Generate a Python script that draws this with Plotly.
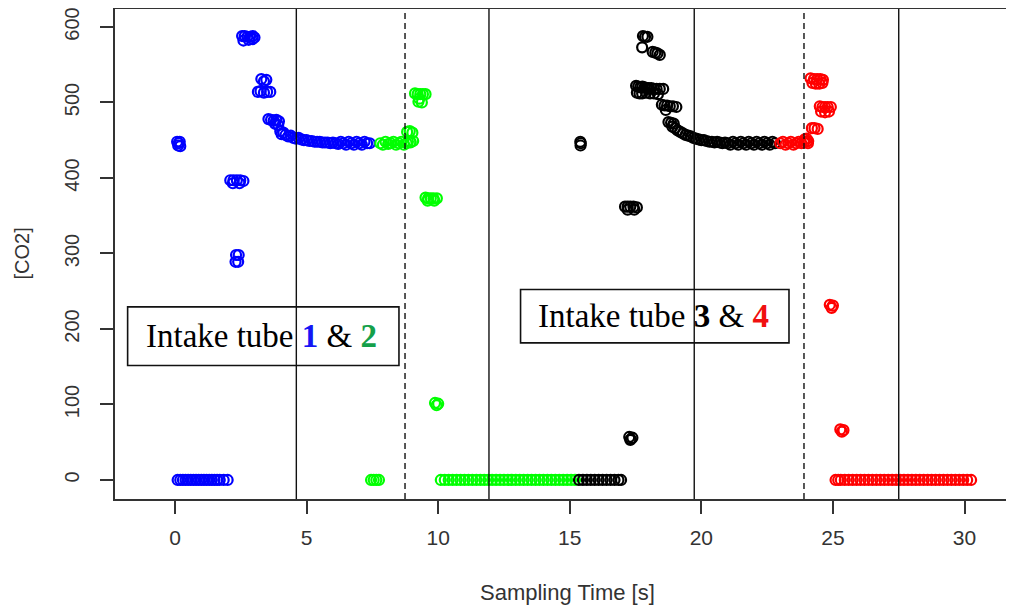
import plotly.graph_objects as go

# ---------------- data ----------------
tube1_t = [0.10, 0.20, 0.30, 0.40, 0.50, 0.60, 0.70, 0.80, 0.90, 1.00, 1.10, 1.20, 1.30, 1.40, 1.50, 1.60, 1.70, 1.85, 2.00,
           0.08, 0.14, 0.20, 0.12, 0.18,
           2.10, 2.22, 2.35, 2.48, 2.60, 2.20, 2.45,
           2.30, 2.40, 2.32, 2.42,
           2.55, 2.65, 2.75, 2.85, 2.95, 3.02, 2.60, 2.80, 2.95,
           3.28, 3.38, 3.47,
           3.15, 3.25, 3.38, 3.50, 3.62,
           3.55, 3.65, 3.75, 3.85, 3.95, 3.92, 3.80,
           4.00, 4.05, 4.12, 4.20, 4.30, 4.40, 4.50, 4.60, 4.70, 4.80, 4.90,
           5.00, 5.10, 5.20, 5.30, 5.40, 5.50, 5.60, 5.70, 5.80, 5.90, 6.00, 6.10, 6.20,
           6.30, 6.40, 6.50, 6.60, 6.70, 6.80, 6.90, 7.00, 7.10, 7.20, 7.30, 7.40]
tube1_co2 = [0, 0, 0, 0, 0, 0, 0, 0, 0, 0, 0, 0, 0, 0, 0, 0, 0, 0, 0,
             448, 446, 442, 443, 448,
             397, 397, 397, 397, 396, 393, 393,
             289, 289, 298, 298,
             588, 588, 587, 587, 588, 586, 582, 583, 584,
             531, 528, 530,
             514, 515, 513, 514, 514,
             478, 477, 476, 477, 475, 470, 472,
             462, 458, 460, 457, 455, 456, 453, 452, 453, 451, 450,
             450, 449, 449, 448, 448, 448, 447, 447, 447, 446, 447, 446, 445,
             448, 446, 444, 448, 446, 444, 448, 446, 444, 448, 446, 446]

tube2_t = [7.45, 7.55, 7.65, 7.75,
           7.80, 7.90, 8.00, 8.10, 8.20, 8.30, 8.40, 8.50, 8.60, 8.70, 8.80, 8.95,
           8.82, 8.92, 9.02, 8.85, 8.95, 9.05,
           9.12, 9.22, 9.32, 9.42, 9.52, 9.25, 9.38, 9.28,
           9.52, 9.62, 9.72, 9.82, 9.95, 9.60, 9.85,
           9.88, 9.94, 10.00,
           10.10, 10.25, 10.40, 10.55, 10.70, 10.85, 11.00, 11.15, 11.30, 11.45, 11.60, 11.75, 11.90,
           12.05, 12.20, 12.35, 12.50, 12.65, 12.80, 12.95, 13.10, 13.25, 13.40, 13.55, 13.70, 13.85,
           14.00, 14.15, 14.30, 14.45, 14.60, 14.75, 14.90, 15.05, 15.20]
tube2_co2 = [0, 0, 0, 0,
             446, 444, 448, 445, 446, 448, 444, 446, 448, 444, 446, 448,
             461, 462, 460, 448, 447, 449,
             512, 511, 511, 511, 511, 501, 500, 505,
             374, 373, 373, 373, 373, 370, 370,
             102, 99, 101,
             0, 0, 0, 0, 0, 0, 0, 0, 0, 0, 0, 0, 0,
             0, 0, 0, 0, 0, 0, 0, 0, 0, 0, 0, 0, 0,
             0, 0, 0, 0, 0, 0, 0, 0, 0]

tube3_t = [15.40, 15.41, 15.42,
           15.35, 15.50, 15.65, 15.80, 15.95, 16.10, 16.25, 16.40, 16.55, 16.70, 16.85, 16.95,
           17.10, 17.20, 17.30, 17.42, 17.55, 17.20, 17.45,
           17.26, 17.32, 17.38, 17.30,
           17.78, 17.86, 17.95, 17.75,
           18.15, 18.25, 18.33, 18.42,
           17.52, 17.60, 17.68, 17.76, 17.84, 17.92, 18.00, 18.10, 18.20, 18.30, 18.42, 18.55,
           17.55, 17.65, 17.75, 17.90, 18.05, 18.20, 18.35,
           18.50, 18.60, 18.70, 18.80, 18.92, 19.05, 18.65,
           18.75, 18.85, 18.95, 19.00, 18.90,
           19.10, 19.20, 19.30, 19.40, 19.50, 19.60, 19.70, 19.80, 19.90, 20.00, 20.10, 20.20, 20.30,
           20.40, 20.50, 20.60, 20.70, 20.80, 20.90, 21.00, 21.10, 21.20, 21.30, 21.40, 21.50, 21.60,
           21.70, 21.80, 21.90, 22.00, 22.10, 22.20, 22.30, 22.40, 22.50, 22.60, 22.70, 22.80]
tube3_co2 = [448, 443, 446,
             0, 0, 0, 0, 0, 0, 0, 0, 0, 0, 0, 0,
             362, 362, 362, 362, 361, 358, 358,
             57, 54, 56, 53,
             588, 587, 587, 573,
             567, 566, 565, 563,
             522, 521, 520, 521, 520, 519, 519, 519, 518, 518, 518, 518,
             513, 512, 512, 513, 512, 512, 511,
             497, 496, 496, 495, 495, 494, 490,
             474, 473, 472, 466, 468,
             463, 461, 459, 457, 456, 455, 453, 452, 451, 450, 450, 449, 448,
             448, 447, 448, 447, 446, 447, 446, 444, 448, 446, 444, 448, 446,
             444, 448, 446, 444, 448, 446, 444, 448, 446, 444, 448, 446]

tube4_t = [23.00, 23.10, 23.20, 23.30, 23.40, 23.50, 23.60, 23.70, 23.80, 23.90, 24.00, 24.05,
           23.92, 24.00, 24.06,
           24.20, 24.30, 24.42,
           24.15, 24.28, 24.40, 24.52, 24.62, 24.22, 24.35, 24.48, 24.60,
           24.50, 24.60, 24.70, 24.80, 24.92, 24.55, 24.70, 24.85,
           24.88, 24.95, 25.00,
           25.28, 25.34, 25.40,
           25.10, 25.20, 25.30, 25.45, 25.60, 25.75, 25.90, 26.05, 26.20, 26.35, 26.50, 26.65, 26.80,
           26.95, 27.10, 27.25, 27.40, 27.55, 27.70, 27.85, 28.00, 28.15, 28.30, 28.45, 28.60, 28.75,
           28.90, 29.05, 29.20, 29.35, 29.50, 29.65, 29.80, 29.95, 30.10, 30.25]
tube4_co2 = [446, 448, 444, 446, 448, 444, 446, 448, 446, 447, 448, 446,
             451, 452, 449,
             466, 466, 465,
             532, 531, 531, 531, 530, 526, 525, 525, 526,
             495, 494, 494, 494, 494, 488, 487, 488,
             232, 228, 231,
             67, 64, 66,
             0, 0, 0, 0, 0, 0, 0, 0, 0, 0, 0, 0, 0,
             0, 0, 0, 0, 0, 0, 0, 0, 0, 0, 0, 0, 0,
             0, 0, 0, 0, 0, 0, 0, 0, 0, 0]

tube_colors = ["#0000FF", "#00FF00", "#000000", "#FF0000"]
tube_names = ["Intake tube 1", "Intake tube 2", "Intake tube 3", "Intake tube 4"]

switch_solid = [4.61, 11.93, 19.73, 27.50]
switch_dashed = [8.74, 23.90]

x_ticks = [0, 5, 10, 15, 20, 25, 30]
y_ticks = [0, 100, 200, 300, 400, 500, 600]

# ---------------- figure ----------------
# the page body has an 8px margin, so the figure is sized/placed to compensate
fig = go.Figure()
series = [(tube1_t, tube1_co2), (tube2_t, tube2_co2), (tube3_t, tube3_co2), (tube4_t, tube4_co2)]
for (t, c), col, name in zip(series, tube_colors, tube_names):
    fig.add_trace(go.Scatter(
        x=t, y=c, mode="markers", name=name,
        marker=dict(symbol="circle-open", size=10, color=col, line=dict(width=2.2, color=col)),
        showlegend=False, cliponaxis=True))

for xv in switch_solid:
    fig.add_shape(type="line", xref="x", yref="paper", x0=xv, x1=xv, y0=0, y1=1,
                  line=dict(color="#111111", width=1.4))
for xv in switch_dashed:
    fig.add_shape(type="line", xref="x", yref="paper", x0=xv, x1=xv, y0=0, y1=1,
                  line=dict(color="#111111", width=1.4, dash="6px,4px"))

# label boxes
fig.add_shape(type="rect", xref="x", yref="y", x0=-1.80, x1=8.51, y0=151.6, y1=229.3,
              line=dict(color="#111111", width=1.6), fillcolor="rgba(0,0,0,0)")
fig.add_shape(type="rect", xref="x", yref="y", x0=13.13, x1=23.33, y0=181.6, y1=252.3,
              line=dict(color="#111111", width=1.6), fillcolor="rgba(0,0,0,0)")

serif = "Liberation Serif"
fig.add_annotation(xref="x", yref="y", x=3.3, y=190.5, showarrow=False,
                   text="Intake tube <b><span style='color:#1515F5'>1</span></b> &amp; "
                        "<b><span style='color:#15A04A'>2</span></b>",
                   font=dict(family=serif, size=33, color="#000000"))
fig.add_annotation(xref="x", yref="y", x=18.2, y=217, showarrow=False,
                   text="Intake tube <b>3</b> &amp; <b><span style='color:#F01010'>4</span></b>",
                   font=dict(family=serif, size=33, color="#000000"))

sans = "Liberation Sans"
fig.add_annotation(xref="paper", yref="paper", x=0.503, y=-0.1918, showarrow=False,
                   text="Sampling Time [s]", xanchor="center", yanchor="middle",
                   font=dict(family=sans, size=22, color="#333333"))
fig.add_annotation(xref="paper", yref="y", x=(14 - 107) / 899, y=300, showarrow=False,
                   text="[CO2]", textangle=-90, xanchor="center", yanchor="middle",
                   font=dict(family=sans, size=20, color="#333333"))

fig.update_layout(
    width=1006, height=598, autosize=False,
    margin=dict(l=107, r=0, t=1, b=107, pad=0),
    plot_bgcolor="white", paper_bgcolor="white",
    font=dict(family=sans, size=21, color="#333333"),
    xaxis=dict(range=[-2.28, 31.88], tickvals=x_ticks, ticktext=[str(v) for v in x_ticks],
               showgrid=False, zeroline=False, showline=True, mirror=True, automargin=False,
               linecolor="#333333", linewidth=2, ticks="outside", ticklen=13, tickwidth=1.6,
               tickcolor="#333333", ticklabelstandoff=6, ticklabeloverflow="allow"),
    yaxis=dict(range=[-25.2, 623.8], tickvals=y_ticks, ticktext=[str(v) for v in y_ticks],
               showgrid=False, zeroline=False, showline=True, mirror=False, automargin=False,
               linecolor="#333333", linewidth=2, ticks="outside", ticklen=13, tickwidth=1.6,
               tickcolor="#333333", tickangle=-90, ticklabelstandoff=13, ticklabeloverflow="allow",
               tickfont=dict(family=sans, size=20, color="#333333")),
)

fig.write_html("out.html")
